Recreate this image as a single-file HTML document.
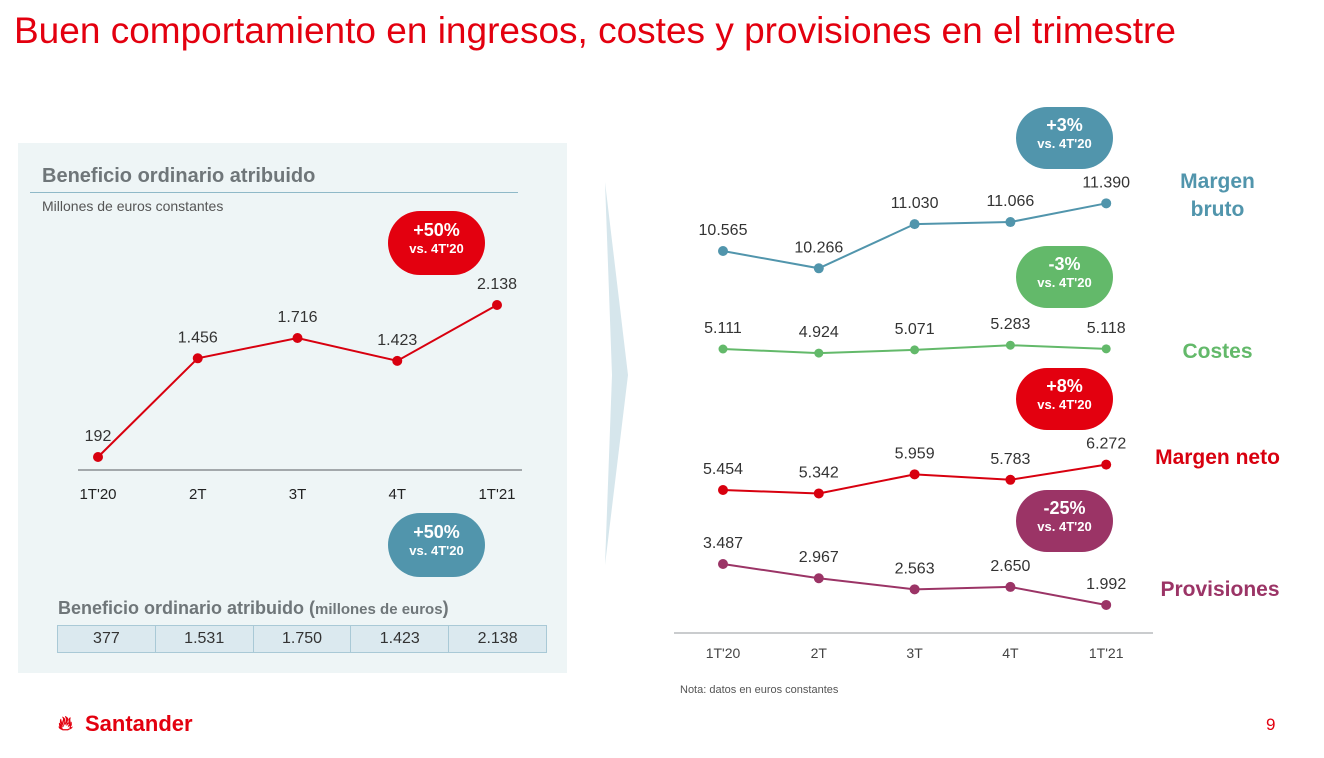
<!DOCTYPE html>
<html><head><meta charset="utf-8"><style>
body{margin:0;width:1324px;height:758px;background:#fff;font-family:"Liberation Sans",sans-serif;overflow:hidden;position:relative}
.abs{position:absolute}
</style></head><body>
<div class="abs" style="left:14px;top:10px;font-size:37px;color:#e3000f;letter-spacing:0px">Buen comportamiento en ingresos, costes y provisiones en el trimestre</div>
<div class="abs" style="left:18px;top:143px;width:549px;height:530px;background:#eef5f6"></div>
<svg class="abs" style="left:0;top:0" width="1324" height="758">
<polygon points="605,182 628,375 605,565 612,375" fill="#d6e6ec"/>
<g id="left"></g><g id="right"></g>
</svg>
<div class="abs" style="left:42px;top:165px;font-size:20px;font-weight:bold;color:#6f7679">Beneficio ordinario atribuido</div>
<div class="abs" style="left:30px;top:192px;width:488px;height:1px;background:#8fb9c8"></div>
<div class="abs" style="left:42px;top:198px;font-size:14px;color:#555">Millones de euros constantes</div>
<div class="abs" style="left:388px;top:211px;width:97px;height:64px;border-radius:32px;background:#e3000f;color:#fff;text-align:center;font-weight:bold"><div style="font-size:18px;margin-top:9px">+50%</div><div style="font-size:13px">vs. 4T'20</div></div>
<div class="abs" style="left:388px;top:513px;width:97px;height:64px;border-radius:32px;background:#5195ac;color:#fff;text-align:center;font-weight:bold"><div style="font-size:18px;margin-top:9px">+50%</div><div style="font-size:13px">vs. 4T'20</div></div>
<div class="abs" style="left:58px;top:598px;font-size:18px;font-weight:bold;color:#6f7679">Beneficio ordinario atribuido (<span style="font-size:15px">millones de euros</span>)</div>
<div class="abs" id="tbl" style="left:57px;top:625px;width:490px;height:28px;display:flex;border:1px solid #a9c9d6;background:#dbe9ef;box-sizing:border-box"></div>
<div class="abs" style="left:1016px;top:107px;width:97px;height:62px;border-radius:31px;background:#5195ac;color:#fff;text-align:center;font-weight:bold"><div style="font-size:18px;margin-top:8px">+3%</div><div style="font-size:13px">vs. 4T'20</div></div>
<div class="abs" style="left:1016px;top:246px;width:97px;height:62px;border-radius:31px;background:#63b96a;color:#fff;text-align:center;font-weight:bold"><div style="font-size:18px;margin-top:8px">-3%</div><div style="font-size:13px">vs. 4T'20</div></div>
<div class="abs" style="left:1016px;top:368px;width:97px;height:62px;border-radius:31px;background:#e3000f;color:#fff;text-align:center;font-weight:bold"><div style="font-size:18px;margin-top:8px">+8%</div><div style="font-size:13px">vs. 4T'20</div></div>
<div class="abs" style="left:1016px;top:490px;width:97px;height:62px;border-radius:31px;background:#9b3466;color:#fff;text-align:center;font-weight:bold"><div style="font-size:18px;margin-top:8px">-25%</div><div style="font-size:13px">vs. 4T'20</div></div>
<div class="abs" style="left:1160px;top:168px;width:115px;text-align:center;font-size:21px;font-weight:bold;color:#5195ac;line-height:28px">Margen<br>bruto</div>
<div class="abs" style="left:1160px;top:340px;width:115px;text-align:center;font-size:21px;font-weight:bold;color:#63b96a">Costes</div>
<div class="abs" style="left:1150px;top:446px;width:135px;text-align:center;font-size:21px;font-weight:bold;color:#d8000f">Margen neto</div>
<div class="abs" style="left:1150px;top:578px;width:140px;text-align:center;font-size:21px;font-weight:bold;color:#9b3466">Provisiones</div>
<div class="abs" style="left:680px;top:684px;font-size:11px;color:#555">Nota: datos en euros constantes</div>
<div class="abs" style="left:58px;top:710px;font-size:22px;font-weight:bold;color:#e3000f"><span style="font-size:20px">&#x1F525;&#xFE0E;</span></div>
<div class="abs" style="left:85px;top:711px;font-size:22px;color:#e3000f;font-weight:bold">Santander</div>
<div class="abs" style="left:1266px;top:715px;font-size:17px;color:#e3000f">9</div>
<script>
const categories=["1T'20","2T","3T","4T","1T'21"];
const beneficio=[192,1456,1716,1423,2138];
const beneficioLabels=["192","1.456","1.716","1.423","2.138"];
const tableValues=["377","1.531","1.750","1.423","2.138"];
const margenBruto=[10565,10266,11030,11066,11390];
const margenBrutoLabels=["10.565","10.266","11.030","11.066","11.390"];
const costes=[5111,4924,5071,5283,5118];
const costesLabels=["5.111","4.924","5.071","5.283","5.118"];
const margenNeto=[5454,5342,5959,5783,6272];
const margenNetoLabels=["5.454","5.342","5.959","5.783","6.272"];
const provisiones=[3487,2967,2563,2650,1992];
const provisionesLabels=["3.487","2.967","2.563","2.650","1.992"];
const NS="http://www.w3.org/2000/svg";
function mk(tag,attrs,parent){const e=document.createElementNS(NS,tag);for(const k in attrs)e.setAttribute(k,attrs[k]);parent.appendChild(e);return e;}
function txt(parent,x,y,s,size,fill){const t=mk('text',{x:x,y:y,'text-anchor':'middle','font-size':size,fill:fill,'font-family':'Liberation Sans, sans-serif'},parent);t.textContent=s;return t;}
function series(parent,name,vals,labels,xf,yf,color,r,w,lblSize){
  const pts=vals.map((v,i)=>xf(i)+','+yf(v)).join(' ');
  const pl=mk('polyline',{points:pts,fill:'none',stroke:color,'stroke-width':w},parent);
  
  
  vals.forEach((v,i)=>{
    const c=mk('circle',{cx:xf(i),cy:yf(v),r:r,fill:color},parent);
    
    
    const t=txt(parent,xf(i),yf(v)-16,labels[i],lblSize,'#333');
    
    
  });
}
const L=document.getElementById('left');
const lx=i=>98+i*99.75;
const ly=v=>472-v*0.0781;
const la=mk('line',{x1:78,y1:470,x2:522,y2:470,stroke:'#8a8f92','stroke-width':1.5},L);


categories.forEach((c,i)=>{const t=txt(L,lx(i),499,c,15,'#222');});
series(L,'beneficio',beneficio,beneficioLabels,lx,ly,'#d8000f',5,2,16);
const tbl=document.getElementById('tbl');
tableValues.forEach((v,i)=>{const d=document.createElement('div');d.textContent=v;d.style.cssText='flex:1;text-align:center;font-size:16px;color:#333;line-height:26px;'+(i<4?'border-right:1px solid #a9c9d6;':'');


tbl.appendChild(d);});
const R=document.getElementById('right');
const rx=i=>723+i*95.8;
const ra=mk('line',{x1:674,y1:633,x2:1153,y2:633,stroke:'#b8bcbe','stroke-width':1.5},R);


categories.forEach((c,i)=>{const t=txt(R,rx(i),658,c,14,'#444');});
series(R,'margen-bruto',margenBruto,margenBrutoLabels,rx,v=>251-(v-10565)*0.0578,'#5195ac',5,2,16);
series(R,'costes',costes,costesLabels,rx,v=>349-(v-5111)*0.022,'#63b96a',4.5,2,16);
series(R,'margen-neto',margenNeto,margenNetoLabels,rx,v=>490-(v-5454)*0.031,'#d8000f',5,2,16);
series(R,'provisiones',provisiones,provisionesLabels,rx,v=>564-(v-3487)*0.0274,'#9b3466',5,2,16);
</script>
</body></html>
